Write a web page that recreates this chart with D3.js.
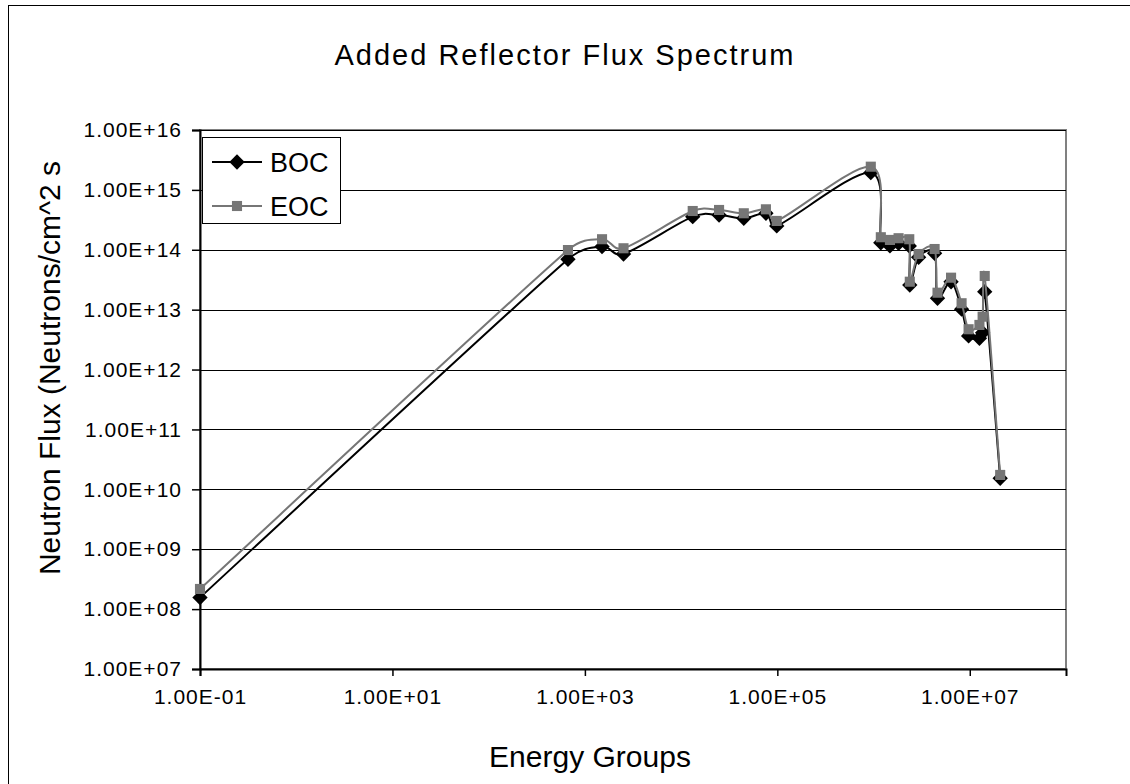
<!DOCTYPE html>
<html>
<head>
<meta charset="utf-8">
<script src="https://cdn.jsdelivr.net/npm/d3@7"></script>
<style>
  body { margin: 0; background: #fff; }
  text { font-family: "Liberation Sans", Arial, sans-serif; fill: #000; }
</style>
</head>
<body>
<svg id="chart" width="1130" height="784"></svg>
<script>
// energy group points
const energy = [0.1, 667, 1507, 2520, 13200, 24800, 44800, 76100, 98600, 9.36e5,
  1.19e6, 1.48e6, 1.82e6, 2.35e6, 2.38e6, 2.94e6, 4.31e6, 4.62e6, 6.39e6, 8.22e6,
  9.72e6, 1.26e7, 1.36e7, 1.43e7, 2.07e7];
const boc = [1.56e8, 6.94e13, 1.13e14, 8.5e13, 3.57e14, 3.81e14, 3.36e14, 4.07e14, 2.5e14, 1.94e15,
  1.31e14, 1.16e14, 1.28e14, 1.16e14, 2.58e13, 7.5e13, 8.74e13, 1.55e13, 2.93e13, 1.02e13,
  3.64e12, 3.33e12, 4.13e12, 2.0e13, 1.53e10];
const eoc = [2.17e8, 9.9e13, 1.5e14, 1.06e14, 4.44e14, 4.62e14, 4.07e14, 4.74e14, 3.03e14, 2.44e15,
  1.62e14, 1.46e14, 1.56e14, 1.5e14, 2.93e13, 8.5e13, 1.03e14, 1.92e13, 3.42e13, 1.28e13,
  4.71e12, 5.56e12, 7.64e12, 3.65e13, 1.74e10];
const xTicks = [1e-1, 1e1, 1e3, 1e5, 1e7];
const yTicks = [1e7, 1e8, 1e9, 1e10, 1e11, 1e12, 1e13, 1e14, 1e15, 1e16];
const seriesNames = ['BOC', 'EOC'];

const svg = d3.select('#chart');
const plotL = 200, plotR = 1066, plotT = 130, plotB = 669;
const bocColor = '#000000', eocColor = '#767676';

const x = d3.scaleLog().domain([1e-1, 1e8]).range([plotL, plotR]);
const y = d3.scaleLog().domain([1e7, 1e16]).range([plotB, plotT]);

const fmt = d => {
  const p = Math.round(Math.log10(d));
  return '1.00E' + (p < 0 ? '-' : '+') + String(Math.abs(p)).padStart(2, '0');
};

// excel-ish smoothed line: bezier with 1/6 tension, arms clamped to half the segment
function smoothPath(values) {
  const pts = values.map(d => [x(d[0]), y(d[1])]);
  const n = pts.length;
  const p = d3.path();
  p.moveTo(pts[0][0], pts[0][1]);
  const clamp = (v, max) => {
    const len = Math.hypot(v[0], v[1]);
    return len > max ? [v[0] * max / len, v[1] * max / len] : v;
  };
  for (let i = 0; i < n - 1; i++) {
    const p0 = pts[Math.max(i - 1, 0)], p1 = pts[i], p2 = pts[i + 1], p3 = pts[Math.min(i + 2, n - 1)];
    const seg = Math.hypot(p2[0] - p1[0], p2[1] - p1[1]);
    const a = clamp([(p2[0] - p0[0]) / 6, (p2[1] - p0[1]) / 6], seg * 0.5);
    const b = clamp([(p3[0] - p1[0]) / 6, (p3[1] - p1[1]) / 6], seg * 0.5);
    p.bezierCurveTo(p1[0] + a[0], p1[1] + a[1], p2[0] - b[0], p2[1] - b[1], p2[0], p2[1]);
  }
  return p.toString();
}

// outer chart border (only top/left show in the picture)
svg.append('rect').attr('x', 8.5).attr('y', 5.5).attr('width', 1300).attr('height', 900)
  .attr('fill', 'none').attr('stroke', '#000').attr('stroke-width', 1);

// title
svg.append('text').attr('x', 565).attr('y', 65).attr('text-anchor', 'middle')
  .style('font-size', '29px').style('letter-spacing', '2px').text('Added Reflector Flux Spectrum');

// plot frame
svg.append('rect').attr('x', plotL).attr('y', plotT).attr('width', plotR - plotL).attr('height', plotB - plotT)
  .attr('fill', 'none').attr('stroke', '#808080').attr('stroke-width', 2);

// grid lines
svg.append('g').selectAll('line').data(yTicks.slice(1)).join('line')
  .attr('x1', plotL).attr('x2', plotR)
  .attr('y1', d => Math.round(y(d)) + 0.5).attr('y2', d => Math.round(y(d)) + 0.5)
  .attr('stroke', '#000').attr('stroke-width', 1);

// axes
const yAxis = svg.append('g').attr('transform', `translate(${plotL},0)`)
  .call(d3.axisLeft(y).tickValues(yTicks).tickFormat(fmt).tickSize(8).tickPadding(10));
const xAxis = svg.append('g').attr('transform', `translate(0,${plotB})`)
  .call(d3.axisBottom(x).tickValues(xTicks).tickFormat(fmt).tickSize(7).tickPadding(13));
[yAxis, xAxis].forEach(a => {
  a.select('.domain').attr('stroke', '#000').attr('stroke-width', 2);
  a.selectAll('.tick line').attr('stroke', '#000').attr('stroke-width', 1.5);
  a.selectAll('.tick text').style('font-size', '21px').style('letter-spacing', '1px')
    .style('font-family', '"Liberation Sans", Arial, sans-serif').attr('fill', '#000');
});

// axis titles
svg.append('text').attr('transform', 'translate(60,368) rotate(-90)').attr('text-anchor', 'middle')
  .style('font-size', '30px').text('Neutron Flux (Neutrons/cm^2 s');
svg.append('text').attr('x', 590).attr('y', 767).attr('text-anchor', 'middle')
  .style('font-size', '30px').text('Energy Groups');

// series
const eocPts = energy.map((e, i) => [e, eoc[i]]);
const bocPts = energy.map((e, i) => [e, boc[i]]);

const diamond = d3.symbol().type(d3.symbolDiamond2).size(150);
const square = d3.symbol().type(d3.symbolSquare2).size(130);

svg.append('path').attr('d', smoothPath(bocPts)).attr('fill', 'none').attr('stroke', bocColor).attr('stroke-width', 2);
svg.append('g').selectAll('path').data(bocPts).join('path')
  .attr('transform', d => `translate(${x(d[0])},${y(d[1])})`)
  .attr('d', diamond).attr('fill', bocColor);

svg.append('path').attr('d', smoothPath(eocPts)).attr('fill', 'none').attr('stroke', eocColor).attr('stroke-width', 2);
svg.append('g').selectAll('path').data(eocPts).join('path')
  .attr('transform', d => `translate(${x(d[0])},${y(d[1])})`)
  .attr('d', square).attr('fill', eocColor);

// legend
const legend = svg.append('g');
legend.append('rect').attr('x', 202.5).attr('y', 137.5).attr('width', 138).attr('height', 86)
  .attr('fill', '#fff').attr('stroke', '#000').attr('stroke-width', 1);
seriesNames.forEach((name, i) => {
  const ly = i === 0 ? 162 : 206;
  const c = i === 0 ? bocColor : eocColor;
  legend.append('line').attr('x1', 212).attr('x2', 262).attr('y1', ly).attr('y2', ly)
    .attr('stroke', c).attr('stroke-width', 2);
  legend.append('path').attr('transform', `translate(237,${ly})`)
    .attr('d', i === 0 ? diamond : square).attr('fill', c);
  legend.append('text').attr('x', 270).attr('y', ly + 10).style('font-size', '27px').text(name);
});
</script>
</body>
</html>
